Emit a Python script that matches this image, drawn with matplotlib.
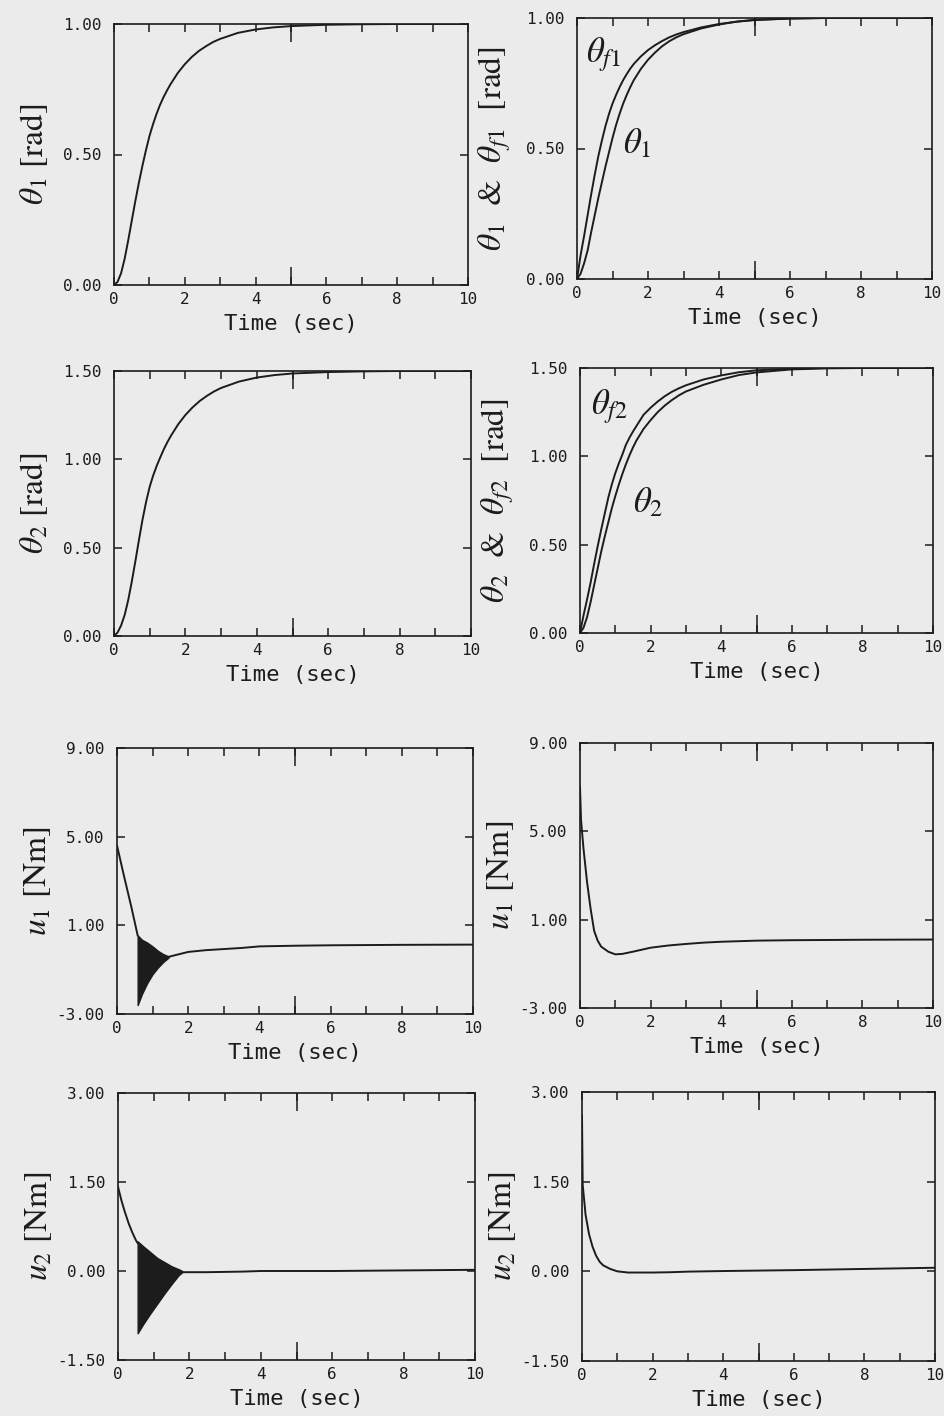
"""
Joint angles and input torques of the two link arm (8 panels, scanned page look)
"""

import matplotlib.pyplot as plt
from matplotlib.ticker import FixedLocator

BG = '#ebebeb'
INK = '#1c1c1c'

# time grid (sec) for the joint angle responses
timeGrid = [0, 0.1, 0.2, 0.3, 0.4, 0.5, 0.6, 0.7, 0.8, 0.9, 1.0, 1.1, 1.2, 1.3, 1.4, 1.5, 1.6,
            1.8, 2.0, 2.2, 2.4, 2.6, 2.8, 3.0, 3.5, 4.0, 4.5, 5.0, 6.0, 7.0, 8.0, 10.0]

# theta_1 [rad], left column
theta1Left = [0, 0.012, 0.045, 0.10, 0.17, 0.245, 0.32, 0.39, 0.455, 0.515, 0.57, 0.615, 0.655,
              0.69, 0.72, 0.746, 0.77, 0.812, 0.846, 0.874, 0.897, 0.915, 0.931, 0.943, 0.966,
              0.979, 0.987, 0.992, 0.997, 0.999, 1.0, 1.0]
# theta_2 [rad], left column
theta2Left = [0, 0.02, 0.06, 0.12, 0.205, 0.31, 0.425, 0.545, 0.66, 0.76, 0.845, 0.91, 0.965,
              1.013, 1.059, 1.099, 1.135, 1.199, 1.251, 1.294, 1.33, 1.359, 1.384, 1.404, 1.44,
              1.463, 1.477, 1.486, 1.494, 1.498, 1.5, 1.5]

# theta_1 and filtered theta_f1 [rad], right column
theta1Right = [0, 0.02, 0.06, 0.11, 0.18, 0.245, 0.31, 0.37, 0.43, 0.485, 0.54, 0.59, 0.633,
               0.672, 0.705, 0.735, 0.762, 0.805, 0.84, 0.868, 0.892, 0.911, 0.926, 0.938, 0.96,
               0.975, 0.986, 0.993, 0.998, 1.0, 1.0, 1.0]
thetaF1 = [0, 0.09, 0.165, 0.245, 0.325, 0.40, 0.47, 0.53, 0.585, 0.632, 0.672, 0.705, 0.735,
           0.762, 0.785, 0.806, 0.824, 0.853, 0.877, 0.896, 0.912, 0.926, 0.937, 0.946, 0.964,
           0.977, 0.986, 0.992, 0.998, 1.0, 1.0, 1.0]

# theta_2 and filtered theta_f2 [rad], right column
theta2Right = [0, 0.03, 0.09, 0.175, 0.27, 0.365, 0.46, 0.545, 0.625, 0.705, 0.775, 0.84, 0.9,
               0.955, 1.005, 1.05, 1.09, 1.155, 1.205, 1.25, 1.287, 1.318, 1.345, 1.367, 1.405,
               1.435, 1.46, 1.475, 1.492, 1.498, 1.5, 1.5]
thetaF2 = [0, 0.1, 0.19, 0.285, 0.39, 0.49, 0.585, 0.675, 0.765, 0.84, 0.905, 0.96, 1.01,
           1.065, 1.105, 1.14, 1.172, 1.235, 1.275, 1.31, 1.34, 1.365, 1.385, 1.402, 1.435,
           1.458, 1.476, 1.487, 1.496, 1.5, 1.5, 1.5]

# u_1 [Nm], left column: smooth part before and after the chattering band
u1LeftTimeA = [0, 0.2, 0.4, 0.58]
u1LeftA = [4.6, 3.2, 1.85, 0.55]
u1BandTime = [0.58, 0.7, 0.85, 1.0, 1.15, 1.3, 1.45]
u1BandUpper = [0.55, 0.35, 0.22, 0.05, -0.15, -0.3, -0.4]
u1BandLower = [-2.6, -2.1, -1.6, -1.2, -0.9, -0.65, -0.45]
u1LeftTimeB = [1.45, 1.75, 2.0, 2.5, 3.0, 3.5, 4.0, 5.0, 6.0, 8.0, 10.0]
u1LeftB = [-0.42, -0.3, -0.2, -0.12, -0.07, -0.02, 0.05, 0.08, 0.1, 0.12, 0.13]

# u_1 [Nm], right column
u1RightTime = [0, 0.03, 0.1, 0.2, 0.3, 0.4, 0.5, 0.6, 0.8, 1.0, 1.2, 1.5, 2.0, 2.5, 3.0,
               3.5, 4.0, 5.0, 6.0, 8.0, 10.0]
u1Right = [7.0, 5.5, 4.2, 2.7, 1.5, 0.5, 0.05, -0.22, -0.45, -0.57, -0.55, -0.45, -0.27,
           -0.17, -0.1, -0.04, 0.0, 0.05, 0.07, 0.09, 0.1]

# u_2 [Nm], left column
u2LeftTimeA = [0, 0.1, 0.2, 0.3, 0.4, 0.5, 0.55]
u2LeftA = [1.42, 1.18, 0.98, 0.8, 0.65, 0.52, 0.47]
u2BandTime = [0.55, 0.7, 0.9, 1.1, 1.3, 1.5, 1.7, 1.8]
u2BandUpper = [0.5, 0.42, 0.32, 0.22, 0.15, 0.08, 0.03, 0.0]
u2BandLower = [-1.05, -0.9, -0.72, -0.55, -0.38, -0.22, -0.07, -0.02]
u2LeftTimeB = [1.8, 2.5, 3.5, 4.0, 6.0, 8.0, 10.0]
u2LeftB = [-0.02, -0.02, -0.01, 0.0, 0.0, 0.01, 0.02]

# u_2 [Nm], right column
u2RightTime = [0, 0.02, 0.1, 0.2, 0.3, 0.4, 0.5, 0.6, 0.8, 1.0, 1.3, 2.0, 2.5, 3.0, 4.0,
               6.0, 8.0, 10.0]
u2Right = [2.6, 1.45, 0.95, 0.62, 0.41, 0.26, 0.16, 0.1, 0.04, 0.0, -0.02, -0.02, -0.015,
           -0.005, 0.005, 0.02, 0.04, 0.06]

plt.rcParams['mathtext.fontset'] = 'stix'
plt.rcParams['font.family'] = ['DejaVu Sans Mono']

FIG_W, FIG_H = 944, 1416
fig = plt.figure(figsize=(FIG_W / 100, FIG_H / 100), dpi=100)
fig.patch.set_facecolor(BG)


def addAxes(left, top, right, bottom):
    """
    Adds an axes given in pixel coordinates of the page (origin top left)
    :return:
    """
    ax = fig.add_axes([left / FIG_W, 1 - bottom / FIG_H, (right - left) / FIG_W, (bottom - top) / FIG_H])
    ax.widthPx = right - left
    return ax


def styleAxes(ax, yLimits, yTicks, yLabel):
    """
    Plotter style frame: inward ticks on every side, a long tick at t=5
    :return:
    """
    ax.set_facecolor(BG)
    ax.set_xlim(0, 10)
    ax.set_ylim(*yLimits)

    ax.set_xticks(range(0, 11))
    ax.set_xticklabels([str(t) if t % 2 == 0 else '' for t in range(0, 11)])
    ax.xaxis.set_minor_locator(FixedLocator([5]))
    ax.xaxis.remove_overlapping_locs = False
    ax.tick_params(axis='x', which='major', direction='in', top=True, length=6, width=1.1,
                   pad=5, labelsize=11.5, colors=INK)
    ax.tick_params(axis='x', which='minor', direction='in', top=True, length=13, width=1.1, colors=INK)

    ax.set_yticks(yTicks)
    ax.set_yticklabels(['{:.2f}'.format(v) for v in yTicks])
    ax.tick_params(axis='y', direction='in', right=True, length=6, width=1.1,
                   pad=9, labelsize=11.5, colors=INK)

    for spine in ax.spines.values():
        spine.set_linewidth(1.2)
        spine.set_color(INK)

    ax.set_xlabel('Time (sec)', fontsize=16, color=INK, labelpad=5)
    ax.set_ylabel(yLabel, fontsize=24, color=INK, family='STIXGeneral')
    ax.yaxis.set_label_coords(-64 / ax.widthPx, 0.5)


def drawCurve(ax, x, y):
    ax.plot(x, y, color=INK, lw=1.4)


def drawChatter(ax, t, upper, lower):
    """
    The chattering part of the torque is drawn as a filled band between its envelopes
    :return:
    """
    ax.fill_between(t, lower, upper, color=INK, lw=1.0, edgecolor=INK)


# row 1
ax = addAxes(114, 24, 468, 285)
styleAxes(ax, (0, 1), [0, 0.5, 1.0], r'$\theta_1$ [rad]')
drawCurve(ax, timeGrid, theta1Left)

ax = addAxes(577, 18, 932, 279)
styleAxes(ax, (0, 1), [0, 0.5, 1.0], r'$\theta_1$  &  $\theta_{f1}$  [rad]')
drawCurve(ax, timeGrid, theta1Right)
drawCurve(ax, timeGrid, thetaF1)
ax.text(0.26, 0.86, r'$\theta_{f1}$', fontsize=25, va='center', color=INK)
ax.text(1.3, 0.52, r'$\theta_1$', fontsize=25, va='center', color=INK)

# row 2
ax = addAxes(114, 371, 471, 636)
styleAxes(ax, (0, 1.5), [0, 0.5, 1.0, 1.5], r'$\theta_2$ [rad]')
drawCurve(ax, timeGrid, theta2Left)

ax = addAxes(580, 368, 933, 633)
styleAxes(ax, (0, 1.5), [0, 0.5, 1.0, 1.5], r'$\theta_2$  &  $\theta_{f2}$  [rad]')
drawCurve(ax, timeGrid, theta2Right)
drawCurve(ax, timeGrid, thetaF2)
ax.text(0.32, 1.28, r'$\theta_{f2}$', fontsize=25, va='center', color=INK)
ax.text(1.5, 0.74, r'$\theta_2$', fontsize=25, va='center', color=INK)

# row 3
ax = addAxes(117, 748, 473, 1014)
styleAxes(ax, (-3, 9), [-3, 1, 5, 9], r'$u_1$ [Nm]')
drawCurve(ax, u1LeftTimeA, u1LeftA)
drawChatter(ax, u1BandTime, u1BandUpper, u1BandLower)
drawCurve(ax, u1LeftTimeB, u1LeftB)

ax = addAxes(580, 743, 933, 1008)
styleAxes(ax, (-3, 9), [-3, 1, 5, 9], r'$u_1$ [Nm]')
drawCurve(ax, u1RightTime, u1Right)

# row 4
ax = addAxes(118, 1093, 475, 1360)
styleAxes(ax, (-1.5, 3), [-1.5, 0, 1.5, 3.0], r'$u_2$ [Nm]')
drawCurve(ax, u2LeftTimeA, u2LeftA)
drawChatter(ax, u2BandTime, u2BandUpper, u2BandLower)
drawCurve(ax, u2LeftTimeB, u2LeftB)

ax = addAxes(582, 1092, 935, 1361)
styleAxes(ax, (-1.5, 3), [-1.5, 0, 1.5, 3.0], r'$u_2$ [Nm]')
drawCurve(ax, u2RightTime, u2Right)

fig.savefig('out.png', dpi=100, facecolor=BG)
